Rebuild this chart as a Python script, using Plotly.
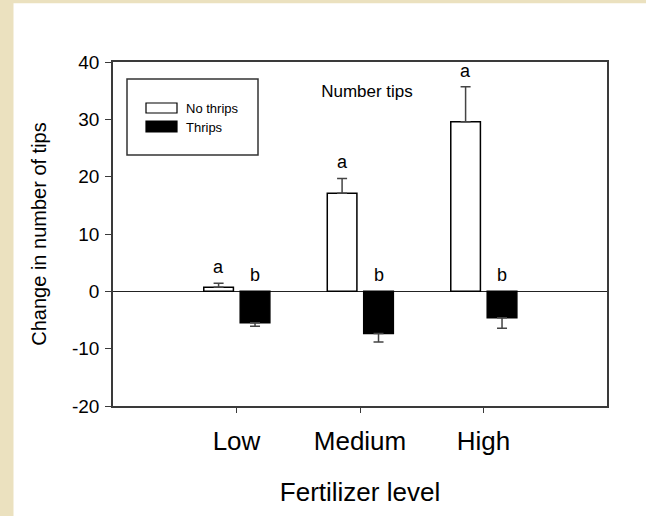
import plotly.graph_objects as go

# ---- data ----
categories = ["Low", "Medium", "High"]
cat_pos = [0, 1, 2]
no_thrips_mean = [0.7, 17.1, 29.6]
no_thrips_se = [0.7, 2.6, 6.1]
thrips_mean = [-5.5, -7.35, -4.6]
thrips_se = [0.57, 1.5, 1.85]
no_thrips_letters = ["a", "a", "a"]
thrips_letters = ["b", "b", "b"]
y_ticks = [-20, -10, 0, 10, 20, 30, 40]
y_tick_labels = ["-20", "-10", "0", "10", "20", "30", "40"]

# ---- layout geometry ----
W, H = 646, 516
L, R, T, B = 113, 39, 62, 110
PW, PH = W - L - R, H - T - B
FONT = "Liberation Sans, Arial, sans-serif"
BEIGE = "#EBE1BF"
AX = "#3a3a3a"


def px(x):
    return (x - L) / PW


def py(y):
    return (H - B - y) / PH


W_OFF, B_OFF, BW = -0.265, 0.03, 0.24

fig = go.Figure()
fig.add_trace(go.Bar(
    name="No thrips", x=cat_pos, y=no_thrips_mean, offset=W_OFF, width=BW,
    marker=dict(color="white", line=dict(color="black", width=1.5)),
    error_y=dict(type="data", symmetric=False, array=no_thrips_se,
                 arrayminus=[0] * len(no_thrips_se), color="#444", thickness=1.5, width=5),
    showlegend=False,
))
fig.add_trace(go.Bar(
    name="Thrips", x=cat_pos, y=thrips_mean, offset=B_OFF, width=BW,
    marker=dict(color="black", line=dict(color="black", width=1.5)),
    error_y=dict(type="data", symmetric=False, array=[0] * len(thrips_se),
                 arrayminus=thrips_se, color="#444", thickness=1.5, width=5),
    showlegend=False,
))

annotations = []
for c, m, s, t in zip(cat_pos, no_thrips_mean, no_thrips_se, no_thrips_letters):
    annotations.append(dict(x=c + W_OFF + BW / 2, y=m + s, xref="x", yref="y", text=t,
                            showarrow=False, yanchor="bottom", yshift=4,
                            font=dict(size=18, color="black", family=FONT)))
for c, t in zip(cat_pos, thrips_letters):
    annotations.append(dict(x=c + B_OFF + BW / 2, y=0, xref="x", yref="y", text=t,
                            showarrow=False, yanchor="bottom", yshift=4,
                            font=dict(size=18, color="black", family=FONT)))

# legend (drawn)
annotations.append(dict(x=px(184), y=py(108), xref="paper", yref="paper", text="No thrips",
                        showarrow=False, xanchor="left", yanchor="middle",
                        font=dict(size=13, color="black", family=FONT)))
annotations.append(dict(x=px(184), y=py(127), xref="paper", yref="paper", text="Thrips",
                        showarrow=False, xanchor="left", yanchor="middle",
                        font=dict(size=13, color="black", family=FONT)))

shapes = [
    # beige page borders
    dict(type="rect", xref="paper", yref="paper", x0=px(0), x1=px(13.5), y0=py(H), y1=py(0),
         fillcolor=BEIGE, line=dict(width=0), layer="below"),
    dict(type="rect", xref="paper", yref="paper", x0=px(0), x1=px(W), y0=py(3.3), y1=py(0),
         fillcolor=BEIGE, line=dict(width=0), layer="below"),
    # legend box and swatches
    dict(type="rect", xref="paper", yref="paper", x0=px(127), x1=px(258), y0=py(155), y1=py(79),
         fillcolor="white", line=dict(color="#333", width=1.5)),
    dict(type="rect", xref="paper", yref="paper", x0=px(146), x1=px(177), y0=py(113), y1=py(103),
         fillcolor="white", line=dict(color="black", width=1.2)),
    dict(type="rect", xref="paper", yref="paper", x0=px(146), x1=px(177), y0=py(132), y1=py(121),
         fillcolor="black", line=dict(color="black", width=1.2)),
]

fig.update_layout(
    width=W, height=H,
    margin=dict(l=L, r=R, t=T, b=B, autoexpand=False),
    paper_bgcolor="white", plot_bgcolor="white",
    barmode="overlay",
    font=dict(family=FONT, color="black"),
    title=dict(text="Number tips", x=367 / W, y=1 - 90.7 / H, xref="container", yref="container",
               xanchor="center", yanchor="middle", font=dict(size=17, family=FONT, color="black")),
    annotations=annotations,
    shapes=shapes,
    xaxis=dict(range=[-1, 3], tickvals=cat_pos, ticktext=categories, ticks="outside",
               ticklen=5, tickcolor=AX, tickwidth=1.2, showline=True, linecolor=AX, linewidth=1.5,
               mirror=True, showgrid=False, zeroline=False, ticklabelstandoff=6,
               tickfont=dict(size=26, family=FONT, color="black"),
               title=dict(text="Fertilizer level", standoff=28,
                          font=dict(size=26, family=FONT, color="black"))),
    yaxis=dict(range=[-20, 40], tickvals=y_ticks, ticktext=y_tick_labels, ticks="outside",
               ticklen=6, tickcolor=AX, tickwidth=1.2, showline=True, linecolor=AX, linewidth=1.5,
               mirror=True, showgrid=False, zeroline=True, zerolinecolor="#222", zerolinewidth=1.2,
               ticklabelstandoff=2,
               tickfont=dict(size=19, family=FONT, color="black"),
               title=dict(text="Change in number of tips", standoff=20,
                          font=dict(size=20, family=FONT, color="black"))),
)

fig.write_html("out.html")
